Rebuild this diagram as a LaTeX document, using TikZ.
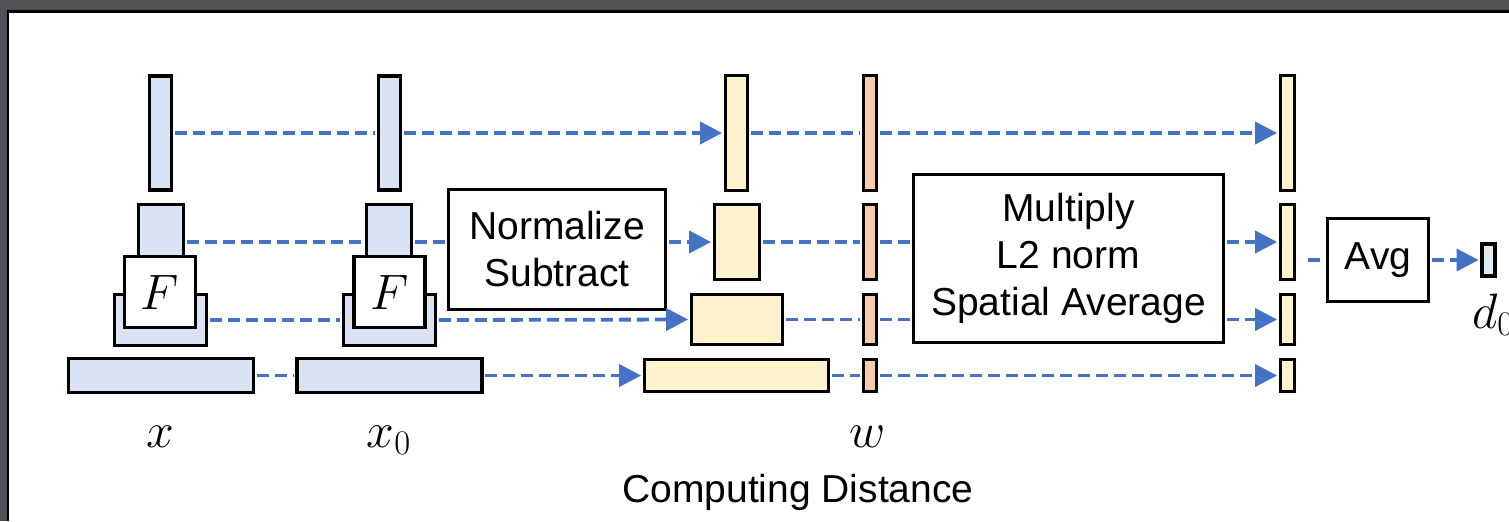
\documentclass[tikz,border=0pt]{standalone}
\usepackage[no-math]{fontspec}
\setmainfont{Liberation Sans}
\usepackage{amsmath}
\usepackage{tikz}
\usetikzlibrary{arrows.meta}
\usetikzlibrary{positioning}
\usepackage{xcolor}

\definecolor{framegray}{HTML}{525158}
\definecolor{linkblue}{HTML}{4472C4}
\definecolor{featblue}{HTML}{DAE3F3}
\definecolor{featyellow}{HTML}{FFF2CC}
\definecolor{featorange}{HTML}{F8CBAD}
\definecolor{outblue}{HTML}{DEEBF7}

\tikzset{
    bar/.style={draw, line width=1.7pt, inner sep=0pt},
    bluebar/.style={bar, fill=featblue},
    yellowbar/.style={bar, fill=featyellow},
    orangebar/.style={bar, fill=featorange},
    opbox/.style={draw, line width=1.4pt, fill=white, align=center, inner sep=0pt,
        font=\fontsize{19.5}{23.5}\selectfont},
    fbox/.style={bar, fill=white, minimum width=35.5pt, minimum height=35.5pt,
        font=\fontsize{23}{26}\selectfont},
    link/.style={linkblue, line width=1.9pt, dash pattern=on 6pt off 3pt,
        shorten <=0.85pt, shorten >=0.85pt},
    linkarrow/.style={link, -{Triangle[length=11pt, width=11pt]}},
    mathlabel/.style={font=\fontsize{25}{28}\selectfont}
}

\begin{document}
\begin{tikzpicture}[x=0.5pt, y=-0.5pt]
    \useasboundingbox (0,0) rectangle (1509,521);

    % 1. Screenshot frame on the top and left edges
    \fill[framegray] (0,0) rectangle (1509,10);
    \fill[framegray] (0,0) rectangle (7,521);
    \draw[black, line width=1.3pt] (8,521) -- (8,11.3) -- (1509,11.3);

    % 2. Features of the image x
    \node[bluebar, minimum width=11pt, minimum height=57pt] (xa) at (160.5,133) {};
    \node[bluebar, minimum width=22.5pt, minimum height=37.5pt] (xb) at (161,242) {};
    \node[bluebar, minimum width=46pt, minimum height=25.5pt] (xc) at (160.5,320) {};
    \node[bluebar, minimum width=92.5pt, minimum height=17pt] (xd) at (161,375.5) {};
    \node[fbox] (xf) at (160,292) {$F$};
    \node[mathlabel, anchor=base] (xlab) at (160,447) {$x$};

    % 3. Features of the image x0
    \node[bluebar, minimum width=11pt, minimum height=57pt] (x0a) at (389.5,133) {};
    \node[bluebar, minimum width=22.5pt, minimum height=37.5pt] (x0b) at (389,242) {};
    \node[bluebar, minimum width=46pt, minimum height=25.5pt] (x0c) at (389.5,320) {};
    \node[bluebar, minimum width=92.5pt, minimum height=17pt] (x0d) at (389.5,375.5) {};
    \node[fbox] (x0f) at (389.5,292) {$F$};
    \node[mathlabel, anchor=base] (x0lab) at (389,447) {$x_0$};

    % 4. Normalize and subtract
    \node[opbox, minimum width=108.5pt, minimum height=60pt] (norm) at (557,249.5)
        {Normalize\\Subtract};

    % 5. Differences of the features
    \node[yellowbar, minimum width=11pt, minimum height=57.5pt] (da) at (736.5,133) {};
    \node[yellowbar, minimum width=22.5pt, minimum height=37.5pt] (db) at (737,242) {};
    \node[yellowbar, minimum width=45.5pt, minimum height=25pt] (dc) at (737,319.5) {};
    \node[yellowbar, minimum width=92pt, minimum height=16pt] (dd) at (736.5,375.5) {};

    % 6. Weights w
    \node[orangebar, minimum width=6.5pt, minimum height=57.5pt] (wa) at (870,133) {};
    \node[orangebar, minimum width=6.5pt, minimum height=37.5pt] (wb) at (870,242) {};
    \node[orangebar, minimum width=6.5pt, minimum height=25pt] (wc) at (870,319.5) {};
    \node[orangebar, minimum width=6.5pt, minimum height=16pt] (wd) at (870,375.5) {};
    \node[mathlabel, anchor=base] (wlab) at (868,447) {$w$};

    % 7. Multiply, L2 norm, spatial average
    \node[opbox, minimum width=155pt, minimum height=84pt] (mult) at (1068.5,258.5)
        {Multiply\\L2 norm\\Spatial Average};

    % 8. Per-layer results
    \node[yellowbar, minimum width=7pt, minimum height=57.5pt] (ra) at (1287.5,133) {};
    \node[yellowbar, minimum width=7pt, minimum height=37.5pt] (rb) at (1287.5,242) {};
    \node[yellowbar, minimum width=7pt, minimum height=25pt] (rc) at (1287.5,319.5) {};
    \node[yellowbar, minimum width=7pt, minimum height=16pt] (rd) at (1287.5,375.5) {};

    % 9. Average and distance d0
    \node[opbox, minimum width=50.5pt, minimum height=41.5pt] (avg) at (1378,260) {Avg};
    \node[bar, fill=outblue, minimum width=6.5pt, minimum height=16pt] (dist) at (1488.5,260) {};
    \node[mathlabel, anchor=base west] (dlab) at (1465,328) {$d_0$};

    % 10. Caption
    \node[font=\fontsize{19.5}{23.5}\selectfont] (caption) at (798,492) {Computing Distance};

    % 11. Dashed connectors, row by row
    \draw[link] (xa.east) -- (x0a.west);
    \draw[linkarrow] (x0a.east) -- (da.west);
    \draw[link] (da.east) -- (wa.west);
    \draw[linkarrow] (wa.east) -- (ra.west);

    \draw[link] (xb.east) -- (x0b.west);
    \draw[link] (x0b.east) -- (x0b.east -| norm.west);
    \draw[linkarrow] (db.west -| norm.east) -- (db.west);
    \draw[link] (db.east) -- (wb.west);
    \draw[link] (wb.east) -- (wb.east -| mult.west);
    \draw[linkarrow] (rb.west -| mult.east) -- (rb.west);

    \draw[link] (xc.east) -- (x0c.west);
    \draw[linkarrow] (x0c.east) -- (dc.west);
    \draw[link] (dc.east) -- (wc.west);
    \draw[link] (wc.east) -- (wc.east -| mult.west);
    \draw[linkarrow] (rc.west -| mult.east) -- (rc.west);

    \draw[link] (xd.east) -- (x0d.west);
    \draw[linkarrow] (x0d.east) -- (dd.west);
    \draw[link] (dd.east) -- (wd.west);
    \draw[linkarrow] (wd.east) -- (rd.west);

    \draw[link] ([xshift=5pt]rb.east |- avg.west) -- (avg.west);
    \draw[linkarrow] (avg.east) -- (dist.west);

\end{tikzpicture}
\end{document}
